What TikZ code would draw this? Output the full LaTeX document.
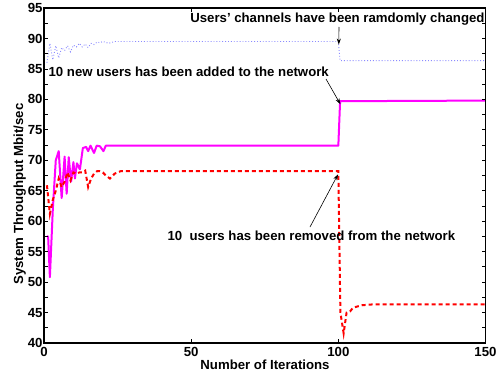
\documentclass[tikz,border=0pt]{standalone}
\usepackage{fontspec}
\setmainfont{Liberation Sans}
\usetikzlibrary{arrows.meta}
\definecolor{curvemag}{RGB}{255,0,255}
\definecolor{curvered}{RGB}{255,0,0}
\definecolor{curveblue}{RGB}{140,140,255}
\tikzset{
  lbl/.style={font=\fontsize{13.2}{14}\selectfont\bfseries, inner sep=0pt, outer sep=0pt},
  axisline/.style={line width=1.8pt, line cap=rect},
  tickline/.style={line width=0.8pt},
  magline/.style={curvemag, line width=2pt, line join=round},
  redline/.style={curvered, line width=2pt, dash pattern=on 4pt off 3pt},
  blueline/.style={curveblue, line width=0.9pt, dash pattern=on 0.9pt off 2pt},
  annarrow/.style={line width=0.6pt, -{Stealth[length=6pt,width=4pt]}},
}
\begin{document}
\begin{tikzpicture}[x=1pt,y=1pt]
\useasboundingbox (0,0) rectangle (502,373);
\fill[white] (0,0) rectangle (502,373);
% data scope: (i, v) -> (44 + 2.9433 i, -213.64 + 6.0909 v)
\begin{scope}[shift={(44,-213.64)}, x=2.9433pt, y=6.0909pt]
  % curves
  \draw[blueline] plot coordinates {(1,86) (2,89.2) (3,86.5) (4,88.8) (5,86.8) (6,88.5) (7,88.0) (8,88.8) (9,87.8) (10,88.9) (11,88.6) (12,89.2) (13,88.6) (14,89.1) (15,88.5) (16,89.2) (17,89.0) (18,89.4) (19,89.3) (20,89.5) (22,89.2) (24,89.5) (100,89.5) (100.6,86.35) (150,86.35)};
  \draw[magline] plot coordinates {(1,57.5) (1.4,57.5) (2,50.8) (3,62) (4,70) (5,71.5) (6,63.8) (7,70.6) (7.7,64.5) (8.4,70.5) (9.2,66.5) (10,69.7) (10.5,67) (11.2,69.5) (12.2,68.5) (13.2,72) (14.3,72.2) (15,71.5) (15.8,72.4) (17,71.2) (17.9,72.4) (19,72.3) (20.2,71.5) (21,72.4) (100,72.4) (100.6,79.7) (150,79.8)};
  \draw[redline] plot coordinates {(1,65.9) (2,61.2) (3,63.5) (4,65) (5,67) (6,65.6) (7,66.5) (8,68) (9,66.7) (10,68) (11,67.8) (12,68) (13,68) (14,68.3) (15,65.6) (16,67) (17,67.8) (18,68.2) (19,68.2) (20,68) (21,67.5) (22.4,67) (24,67.8) (26,68.2) (100,68.2) (100.7,45) (101.8,41.6) (102.8,45) (104,45.2) (105,45.8) (108,46.2) (112,46.35) (150,46.35)};
  % ticks
  \foreach \v in {40,42.5,...,95} {
    \draw[tickline] (0,\v) -- ++(4pt,0);
    \draw[tickline] (150,\v) -- ++(-4pt,0);
  }
  \foreach \i in {0,50,100,150} {
    \draw[tickline] (\i,40) -- ++(0,4pt);
    \draw[tickline] (\i,95) -- ++(0,-4pt);
  }
  % axes box
  \draw[axisline] (0,40) rectangle (150,95);
  % tick labels
  \foreach \v in {40,45,...,95} {
    \node[lbl, anchor=east] (yl\v) at ([xshift=-1.5pt]0,\v) {\v};
  }
  \foreach \i in {0,50,100,150} {
    \node[lbl, anchor=base] (xl\i) at ([yshift=-13.5pt]\i,40) {\i};
  }
  % arrow end points on curves
  \coordinate (e1) at (100.15,89.0);
  \coordinate (e2) at (100.7,79.2);
  \coordinate (e3) at (99.9,67.7);
\end{scope}
% axis labels
\node[lbl, anchor=base] (xlab) at (265,4) {Number of Iterations};
\node[lbl, anchor=base, rotate=90] (ylab) at (23,179) {System Throughput Mbit/sec};
% annotations
\node[lbl, anchor=base east] (t1) at (484.5,350.7) {Users' channels have been ramdomly changed};
\node[lbl, anchor=base west] (t2) at (48.6,297) {10 new users has been added to the network};
\node[lbl, anchor=base west] (t3) at (167.6,132.3) {10\ \ users has been removed from the network};
\coordinate (s1) at (339,346);
\coordinate (s2) at (326,294);
\coordinate (s3) at (310,146);
\draw[annarrow] (s1) -- (e1);
\draw[annarrow] (s2) -- (e2);
\draw[annarrow] (s3) -- (e3);
\end{tikzpicture}
\end{document}
